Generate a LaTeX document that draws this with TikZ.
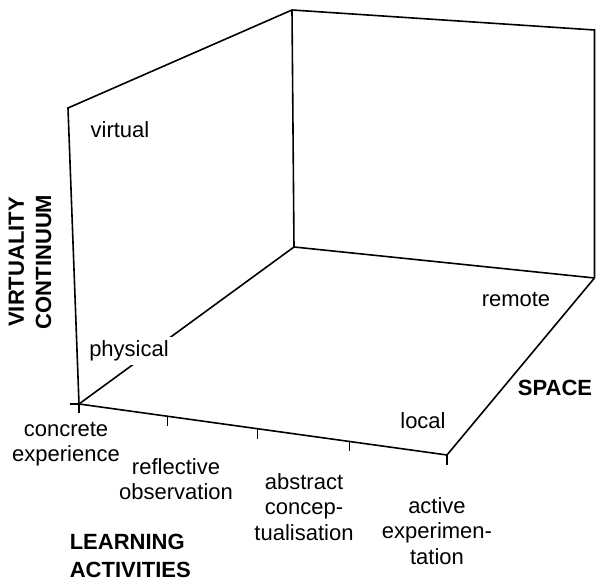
\documentclass[tikz,border=0pt]{standalone}
\usepackage{fontspec}
\setmainfont{Liberation Sans}
\usetikzlibrary{calc}
\begin{document}
\begin{tikzpicture}[x=0.5pt,y=-0.5pt, line width=0.8pt,
  lbl/.style={font=\fontsize{11}{12.7}\selectfont, align=center, inner sep=0pt},
  ttl/.style={font=\fontsize{11}{13.7}\selectfont\bfseries, inner sep=0pt},
  tick/.style={line width=0.6pt}]
\useasboundingbox (0,0) rectangle (596,581);
\coordinate (O) at (79,404);
\coordinate (TL) at (68,108);
\coordinate (BTL) at (292,10);
\coordinate (BBL) at (294,247);
\coordinate (BTR) at (594.5,30);
\coordinate (BBR) at (594.5,278);
\coordinate (FR) at (447,455);
% frame
\draw (O) -- (TL) -- (BTL) -- (BTR) -- (BBR);
\draw (BTL) -- (BBL) -- (BBR);
\draw (O) -- (BBL);
\draw (O) -- (FR) -- (BBR);
% ticks
\coordinate (OL) at (70,404);
\coordinate (OD) at (79,413);
\draw[tick] (OL) -- (O) -- (OD);
\foreach \t/\n in {0.24/a,0.485/b,0.735/c,1/d}{
  \coordinate (t\n) at ($(O)!\t!(FR)$);
  \coordinate (u\n) at ($(t\n)+(0,10)$);
  \draw[tick] (t\n) -- (u\n);
}
% labels
\node[lbl] (virt) at (120,130) {virtual};
\node[lbl, fill=white, inner sep=2pt] (phys) at (129,351) {physical};
\node[ttl, rotate=90, align=center] (vc) at (30,262) {VIRTUALITY\\CONTINUUM};
\node[lbl] (ce) at (66,444) {concrete\\experience};
\node[lbl] (ro) at (176,479) {reflective\\observation};
\node[lbl] (ac) at (304,507) {abstract\\concep-\\tualisation};
\node[lbl] (ae) at (437,531) {active\\experimen-\\tation};
\node[ttl, align=left, anchor=west] (la) at (69,556) {LEARNING\\ACTIVITIES};
\node[lbl] (rem) at (516,300) {remote};
\node[lbl] (loc) at (423,421) {local};
\node[ttl] (sp) at (555,388) {SPACE};
\end{tikzpicture}
\end{document}
